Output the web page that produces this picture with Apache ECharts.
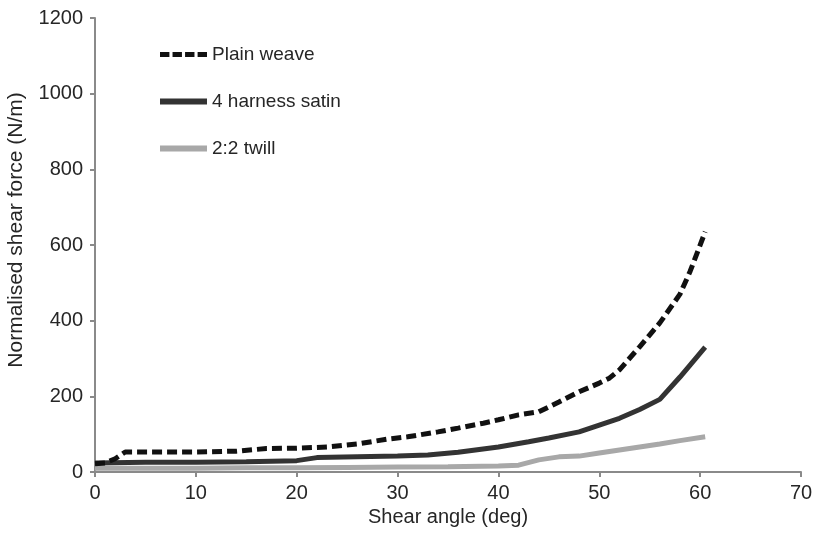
<!DOCTYPE html>
<html>
<head>
<meta charset="utf-8">
<script src="https://cdn.jsdelivr.net/npm/echarts@6/dist/echarts.min.js"></script>
<style>
  html, body { margin: 0; padding: 0; background: #fff; }
  #chart { width: 820px; height: 533px; }
</style>
</head>
<body>
<div id="chart"></div>
<script>
// shear angle (deg) and normalised shear force (N/m)
var plainAngle = [0, 1, 2, 3, 6, 10, 14, 17, 20, 23, 26, 29, 31, 34, 36, 38.5, 40, 42, 44, 46, 48, 50, 51, 52, 54, 56, 58, 59, 60.5];
var plainForce = [22, 24, 35, 53, 53, 53, 55, 62, 63, 66, 74, 87, 93, 106, 116, 129, 138, 151, 159, 185, 212, 235, 248, 270, 331, 394, 470, 530, 635];

var satinAngle = [0, 5, 10, 15, 20, 22, 26, 30, 33, 36, 40, 43, 45, 48, 50, 52, 54, 56, 58, 60.5];
var satinForce = [24, 26, 26, 27, 30, 38, 40, 42, 45, 52, 66, 80, 90, 106, 124, 142, 165, 192, 251, 330];

var twillAngle = [0, 5, 10, 15, 20, 25, 30, 35, 40, 42, 44, 46, 48, 50, 52, 54, 56, 58, 60.5];
var twillForce = [10, 10, 10, 11, 11, 12, 13, 14, 16, 18, 32, 40, 42, 50, 58, 66, 74, 83, 93];

var seriesNames = ['Plain weave', '4 harness satin', '2:2 twill'];

function pairs(xs, ys) {
    return xs.map(function (x, i) { return [x, ys[i]]; });
}

var chart = echarts.init(document.getElementById('chart'));
var textColor = '#262626';
var axisColor = '#8a8a8a';
// legend swatch for the dashed series: four short bars
var dashIcon = 'path://M0,0h9v5h-9zM12,0h9v5h-9zM24,0h9v5h-9zM36,0h9v5h-9z';

chart.setOption({
    animation: false,
    textStyle: { fontFamily: 'Liberation Sans, Arial, sans-serif' },
    grid: { left: 95, right: 19, top: 18, bottom: 61, containLabel: false, outerBoundsMode: 'none' },
    legend: {
        left: 155,
        top: 40,
        orient: 'vertical',
        itemWidth: 47,
        itemHeight: 6,
        itemGap: 28,
        textStyle: { fontSize: 19, color: textColor },
        data: [
            { name: seriesNames[0], icon: dashIcon },
            { name: seriesNames[1], icon: 'rect' },
            { name: seriesNames[2], icon: 'rect' }
        ]
    },
    xAxis: {
        type: 'value',
        min: 0,
        max: 70,
        interval: 10,
        name: 'Shear angle (deg)',
        nameLocation: 'middle',
        nameGap: 35,
        nameTextStyle: { fontSize: 20, color: textColor },
        axisLine: { lineStyle: { color: axisColor, width: 2 } },
        axisTick: { show: true, length: 5, lineStyle: { color: axisColor, width: 2 } },
        axisLabel: { fontSize: 20, color: textColor, margin: 11 },
        splitLine: { show: false }
    },
    yAxis: {
        type: 'value',
        min: 0,
        max: 1200,
        interval: 200,
        name: 'Normalised shear force (N/m)',
        nameLocation: 'middle',
        nameGap: 68,
        nameTextStyle: { fontSize: 21, color: textColor, padding: [0, 0, 0, 30] },
        axisLine: { show: true, lineStyle: { color: axisColor, width: 2 } },
        axisTick: { show: true, length: 5, lineStyle: { color: axisColor, width: 2 } },
        axisLabel: {
            fontSize: 20, color: textColor, margin: 12,
            formatter: function (v) { return String(v); }
        },
        splitLine: { show: false }
    },
    series: [
        {
            name: seriesNames[0],
            type: 'line',
            symbol: 'none',
            z: 3,
            data: pairs(plainAngle, plainForce),
            lineStyle: { color: '#111', width: 5, type: [10, 5] },
            itemStyle: { color: '#111' }
        },
        {
            name: seriesNames[1],
            type: 'line',
            symbol: 'none',
            z: 2,
            data: pairs(satinAngle, satinForce),
            lineStyle: { color: '#333', width: 5 },
            itemStyle: { color: '#333' }
        },
        {
            name: seriesNames[2],
            type: 'line',
            symbol: 'none',
            z: 1,
            data: pairs(twillAngle, twillForce),
            lineStyle: { color: '#a8a8a8', width: 5 },
            itemStyle: { color: '#a8a8a8' }
        }
    ]
});
</script>
</body>
</html>
